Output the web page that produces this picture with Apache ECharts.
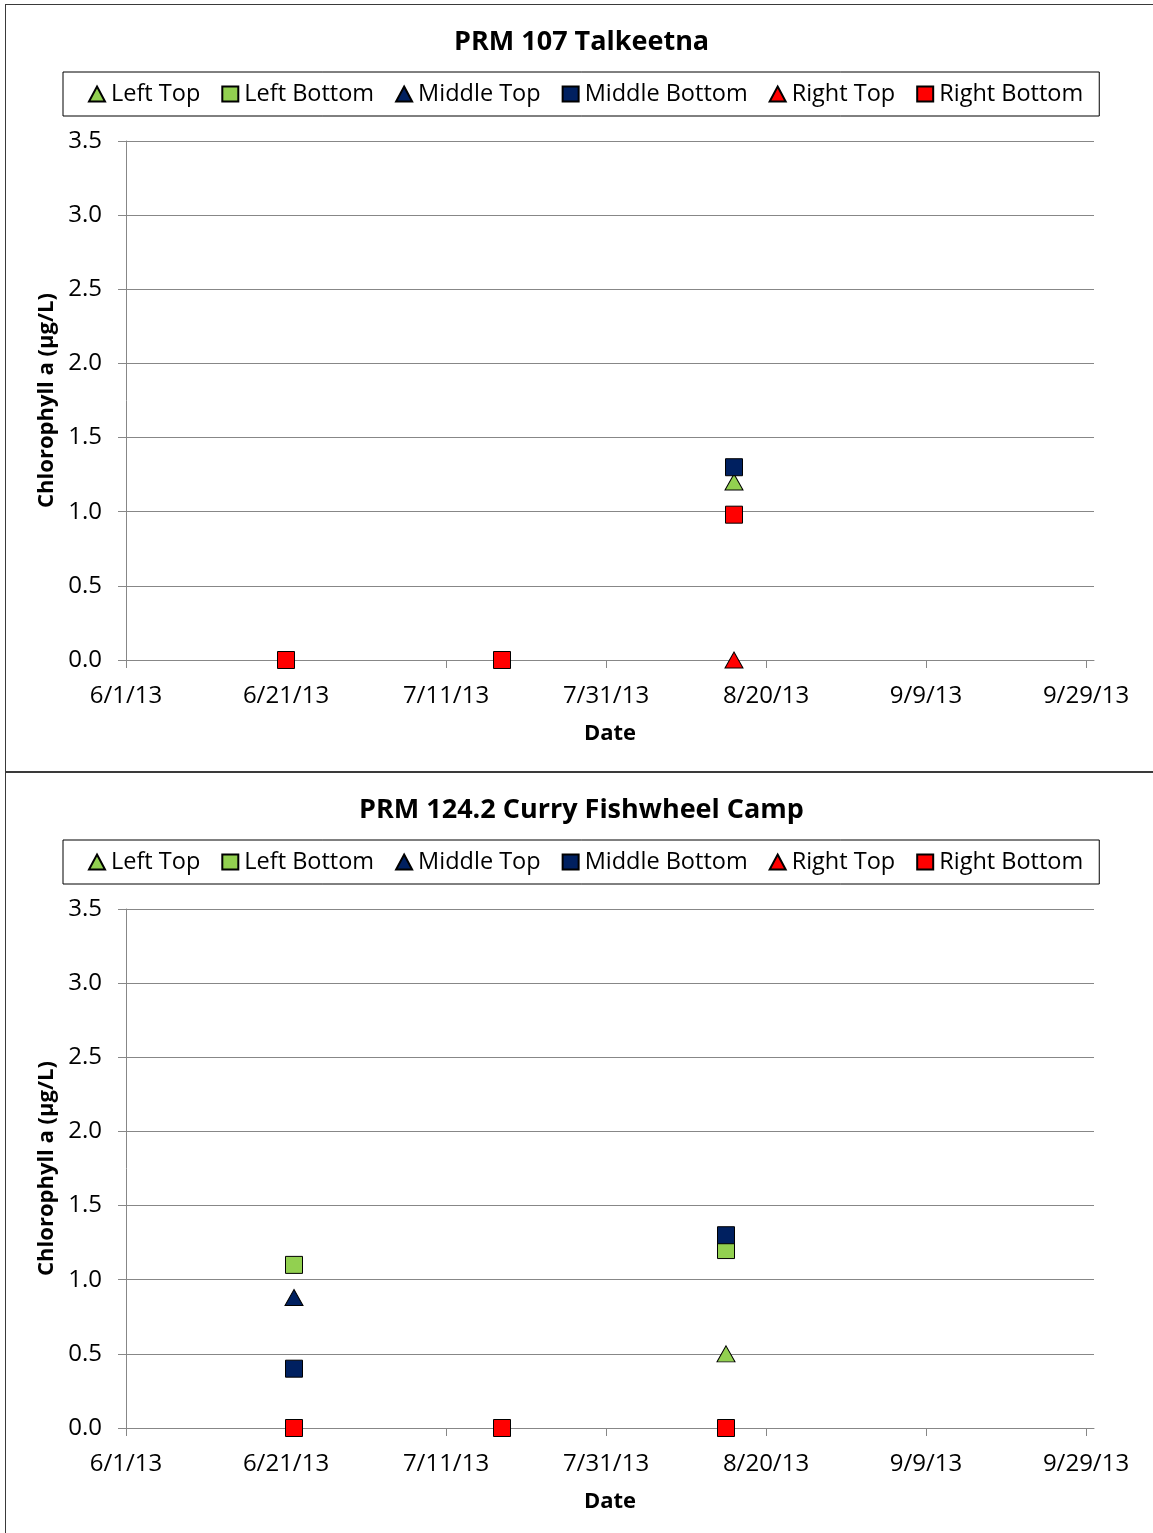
<!DOCTYPE html>
<html>
<head>
<meta charset="utf-8">
<script src="https://cdn.jsdelivr.net/npm/echarts@6/dist/echarts.min.js"></script>
<style>
  html, body { margin: 0; padding: 0; background: #fff; overflow: hidden; }
  .panel { position: absolute; left: 5px; width: 1200px; border: 1px solid #3a3a3a; box-sizing: border-box; }
  #chart { position: absolute; left: 0; top: 0; width: 1153px; height: 1533px; }
</style>
</head>
<body>
<div class="panel" style="top:4px;height:768px;"></div>
<div class="panel" style="top:772px;height:800px;"></div>
<div id="chart"></div>
<script>
// Site titles
const titles = ['PRM 107 Talkeetna', 'PRM 124.2 Curry Fishwheel Camp']
const seriesNames = ['Left Top', 'Left Bottom', 'Middle Top', 'Middle Bottom', 'Right Top', 'Right Bottom']

// PRM 107 Talkeetna
const dates1 = ['2013-06-21', '2013-07-18', '2013-08-16']
const leftTop1 = [null, null, 1.2]
const leftBottom1 = [null, null, null]
const middleTop1 = [null, null, null]
const middleBottom1 = [null, null, 1.3]
const rightTop1 = [null, null, 0]
const rightBottom1 = [0, 0, 0.98]

// PRM 124.2 Curry Fishwheel Camp
const dates2 = ['2013-06-22', '2013-07-18', '2013-08-15']
const leftTop2 = [null, null, 0.5]
const leftBottom2 = [1.1, null, 1.2]
const middleTop2 = [0.88, null, null]
const middleBottom2 = [0.4, null, 1.3]
const rightTop2 = [null, null, null]
const rightBottom2 = [0, 0, 0]

// x axis: days since 6/1/13, ticks every 20 days
const startDate = '2013-06-01'
const xTicks = [0, 20, 40, 60, 80, 100, 120]

const dayNum = s => {
  const [y, m, d] = s.split('-').map(Number)
  const [y0, m0, d0] = startDate.split('-').map(Number)
  return Math.round((Date.UTC(y, m - 1, d) - Date.UTC(y0, m0 - 1, d0)) / 86400000)
}
const dayLabel = v => {
  const [y0, m0, d0] = startDate.split('-').map(Number)
  const dt = new Date(Date.UTC(y0, m0 - 1, d0) + v * 86400000)
  return (dt.getUTCMonth() + 1) + '/' + dt.getUTCDate() + '/' + String(dt.getUTCFullYear()).slice(2)
}
const pairs = (dates, vals) => dates.map((d, i) => [dayNum(d), vals[i]]).filter(p => p[1] !== null)

const colors = ['#92D050', '#92D050', '#002060', '#002060', '#FF0000', '#FF0000']
const symbols = ['triangle', 'rect', 'triangle', 'rect', 'triangle', 'rect']
const sites = [
  { dates: dates1, vals: [leftTop1, leftBottom1, middleTop1, middleBottom1, rightTop1, rightBottom1] },
  { dates: dates2, vals: [leftTop2, leftBottom2, middleTop2, middleBottom2, rightTop2, rightBottom2] }
]

const FONT = '"Open Sans", sans-serif'
const gridColor = '#878787'
const panelTops = [0, 768]
const titleLefts = [449, 354]

const option = {
  animation: false,
  title: [], legend: [], grid: [], xAxis: [], yAxis: [], series: []
}

sites.forEach((site, k) => {
  const t = panelTops[k]
  option.title.push({
    text: titles[k], left: titleLefts[k], top: t + 24,
    textStyle: { fontFamily: FONT, fontSize: 27, fontWeight: 'bold', color: '#000' }
  })
  option.legend.push({
    data: seriesNames.map(n => ({ name: n })),
    left: 63, top: t + 72,
    padding: [10, 16, 10, 25],
    itemGap: 21, itemWidth: 16, itemHeight: 15,
    borderColor: '#000', borderWidth: 1,
    textStyle: { fontFamily: FONT, fontSize: 23.5, color: '#000', padding: [2, 0, 0, 1] }
  })
  option.grid.push({ left: 126, top: t + 141, width: 968, height: 519 })
  option.xAxis.push({
    gridIndex: k, type: 'value', min: 0, max: 121,
    name: 'Date', nameLocation: 'middle', nameGap: 63,
    nameTextStyle: { fontFamily: FONT, fontSize: 22, fontWeight: 'bold', color: '#000' },
    axisLine: { show: true, lineStyle: { color: gridColor } },
    axisTick: { show: true, length: 8, lineStyle: { color: gridColor }, customValues: xTicks },
    axisLabel: {
      customValues: xTicks, margin: 24,
      fontFamily: FONT, fontSize: 24, color: '#000',
      formatter: v => (v % 20 === 0 ? dayLabel(v) : '')
    },
    splitLine: { show: false }
  })
  option.yAxis.push({
    gridIndex: k, type: 'value', min: 0, max: 3.5, interval: 0.5,
    name: 'Chlorophyll a (µg/L)', nameLocation: 'middle', nameGap: 68,
    nameTextStyle: { fontFamily: FONT, fontSize: 22, fontWeight: 'bold', color: '#000' },
    axisLine: { show: true, lineStyle: { color: gridColor } },
    axisTick: { show: true, length: 8, lineStyle: { color: gridColor } },
    axisLabel: { margin: 24, fontFamily: FONT, fontSize: 24, color: '#000', formatter: v => v.toFixed(1) },
    splitLine: { show: true, lineStyle: { color: gridColor, width: 1 } }
  })
  seriesNames.forEach((name, i) => {
    option.series.push({
      name, type: 'scatter', xAxisIndex: k, yAxisIndex: k,
      symbol: symbols[i],
      symbolSize: symbols[i] === 'rect' ? 17 : [18, 16],
      itemStyle: { color: colors[i], borderColor: '#000', borderWidth: 1, opacity: 1 },
      data: pairs(site.dates, site.vals[i]),
      z: 2 + i
    })
  })
})

const chart = echarts.init(document.getElementById('chart'))
chart.setOption(option)
</script>
</body>
</html>
